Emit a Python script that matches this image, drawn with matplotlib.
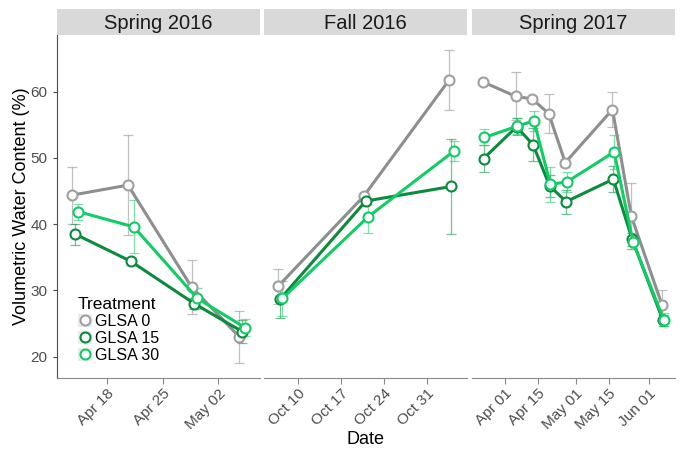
import numpy as np
import pandas as pd
import matplotlib
matplotlib.use('Agg')
import matplotlib.pyplot as plt
import matplotlib.dates as mdates
from matplotlib.lines import Line2D
from matplotlib.patches import Rectangle
from matplotlib.legend_handler import HandlerTuple

plt.rcParams['font.family'] = ['Liberation Sans', 'DejaVu Sans']

# --- data ---
seasons = ['Spring 2016', 'Fall 2016', 'Spring 2017']
treatments = ['GLSA 0', 'GLSA 15', 'GLSA 30']

s16_dates = ['2016-04-14', '2016-04-21', '2016-04-29', '2016-05-05']
s16_glsa0 = [44.4, 45.9, 30.5, 23.0]
s16_glsa0_se = [4.3, 7.5, 4.1, 3.9]
s16_glsa15 = [38.5, 34.4, 28.0, 23.8]
s16_glsa15_se = [1.6, 0.5, 0.8, 1.8]
s16_glsa30 = [41.9, 39.6, 28.8, 24.4]
s16_glsa30_se = [1.2, 4.0, 1.6, 1.3]

f16_dates = ['2016-10-07', '2016-10-21', '2016-11-04']
f16_glsa0 = [30.6, 44.2, 61.8]
f16_glsa0_se = [2.6, 0.5, 4.5]
f16_glsa15 = [28.7, 43.5, 45.7]
f16_glsa15_se = [2.8, 0.6, 7.2]
f16_glsa30 = [28.8, 41.1, 51.0]
f16_glsa30_se = [2.6, 2.4, 1.5]

s17_dates = ['2017-03-23', '2017-04-06', '2017-04-13', '2017-04-20',
             '2017-04-27', '2017-05-17', '2017-05-25', '2017-06-07']
s17_glsa0 = [61.5, 59.3, 58.9, 56.7, 49.3, 57.3, 41.2, 27.8]
s17_glsa0_se = [0.3, 3.6, 0.4, 2.9, 0.6, 2.7, 5.0, 2.3]
s17_glsa15 = [49.9, 54.7, 52.0, 45.8, 43.4, 46.8, 37.7, 25.5]
s17_glsa15_se = [2.0, 1.3, 2.5, 1.7, 1.8, 2.0, 1.0, 0.8]
s17_glsa30 = [53.1, 54.8, 55.6, 46.0, 46.4, 50.9, 37.3, 25.6]
s17_glsa30_se = [1.2, 1.2, 1.5, 2.6, 1.5, 2.5, 1.0, 1.0]

panels = [
    (s16_dates, [(s16_glsa0, s16_glsa0_se), (s16_glsa15, s16_glsa15_se), (s16_glsa30, s16_glsa30_se)],
     ('2016-04-11 16:00', '2016-05-07 05:00'), ['2016-04-18', '2016-04-25', '2016-05-02']),
    (f16_dates, [(f16_glsa0, f16_glsa0_se), (f16_glsa15, f16_glsa15_se), (f16_glsa30, f16_glsa30_se)],
     ('2016-10-04 10:00', '2016-11-06 14:00'), ['2016-10-10', '2016-10-17', '2016-10-24', '2016-10-31']),
    (s17_dates, [(s17_glsa0, s17_glsa0_se), (s17_glsa15, s17_glsa15_se), (s17_glsa30, s17_glsa30_se)],
     ('2017-03-18', '2017-06-12'), ['2017-04-01', '2017-04-15', '2017-05-01', '2017-05-15', '2017-06-01']),
]

line_cols = ['#8e8e8e', '#0b8b3e', '#12cc66']
edge_cols = ['#a0a0a0', '#0b8b3e', '#12cc66']
dodge = [-0.36, 0.0, 0.36]   # days

W, H = 681, 449
fig = plt.figure(figsize=(W / 100, H / 100), dpi=100)

lefts = [56.7, 264.3, 471.7]
pw = 203
top_px, bot_px = 35, 378.3
axes = []
for i, (dates, series, xl, ticks) in enumerate(panels):
    ax = fig.add_axes([lefts[i] / W, 1 - bot_px / H, pw / W, (bot_px - top_px) / H])
    x = mdates.date2num(pd.to_datetime(dates))
    for j, (vals, se) in enumerate(series):
        xx = x + dodge[j]
        ax.errorbar(xx, vals, yerr=se, fmt='none', ecolor=line_cols[j], alpha=0.55,
                    elinewidth=0.9, capsize=3.5, capthick=0.9, zorder=2)
    for j, (vals, se) in enumerate(series):
        xx = x + dodge[j]
        ax.plot(xx, vals, color=line_cols[j], lw=2.2, zorder=3 + j,
                marker='o', ms=7.2, mfc='white', mec=edge_cols[j], mew=1.5)
    ax.set_xlim(mdates.date2num(pd.to_datetime(xl[0])), mdates.date2num(pd.to_datetime(xl[1])))
    ax.set_ylim(16.74, 68.56)
    ax.set_xticks(mdates.date2num(pd.to_datetime(ticks)))
    ax.xaxis.set_major_formatter(mdates.DateFormatter('%b %d'))
    ax.tick_params(axis='x', labelsize=11, labelcolor='#4d4d4d', color='#8a8a8a',
                   length=4, labelrotation=45, pad=2)
    for lab in ax.get_xticklabels():
        lab.set_ha('right')
        lab.set_rotation_mode('anchor')
    for s in ['top', 'right']:
        ax.spines[s].set_visible(False)
    ax.spines['bottom'].set_color('#8a8a8a')
    if i == 0:
        ax.set_yticks([20, 30, 40, 50, 60])
        ax.tick_params(axis='y', labelsize=11, labelcolor='#4d4d4d', color='#4d4d4d', length=3)
        ax.spines['left'].set_color('#4d4d4d')
    else:
        ax.spines['left'].set_visible(False)
        ax.set_yticks([])
    # strip
    sx = fig.add_axes([lefts[i] / W, 1 - 35 / H, pw / W, 26 / H])
    sx.set_facecolor('#d9d9d9')
    sx.set_xticks([])
    sx.set_yticks([])
    for s in sx.spines.values():
        s.set_visible(False)
    sx.text(0.5, 0.45, seasons[i], ha='center', va='center', fontsize=14.5, color='#1a1a1a')
    axes.append(ax)

fig.text(22 / W, 0.541, 'Volumetric Water Content (%)', rotation=90, ha='center', va='center',
         fontsize=13)
fig.text(0.537, 1 - 439 / H, 'Date', ha='center', va='center', fontsize=13)

handles = []
for j in range(3):
    bg = Rectangle((0, 0), 1, 1, fc='#ebebeb', ec='none')
    mk = Line2D([], [], ls='none', marker='o', ms=7.2, mfc='white', mec=edge_cols[j], mew=1.5)
    handles.append((bg, mk))
leg = axes[0].legend(handles, treatments, title='Treatment', loc='upper left',
                     bbox_to_anchor=(0.065, 0.26), frameon=False, fontsize=11.5,
                     title_fontsize=12.5, handlelength=0.9, handleheight=0.9,
                     handletextpad=0.15, labelspacing=0.12, borderpad=0, alignment='left',
                     handler_map={tuple: HandlerTuple(ndivide=1)})

fig.savefig('out.png', dpi=100)
